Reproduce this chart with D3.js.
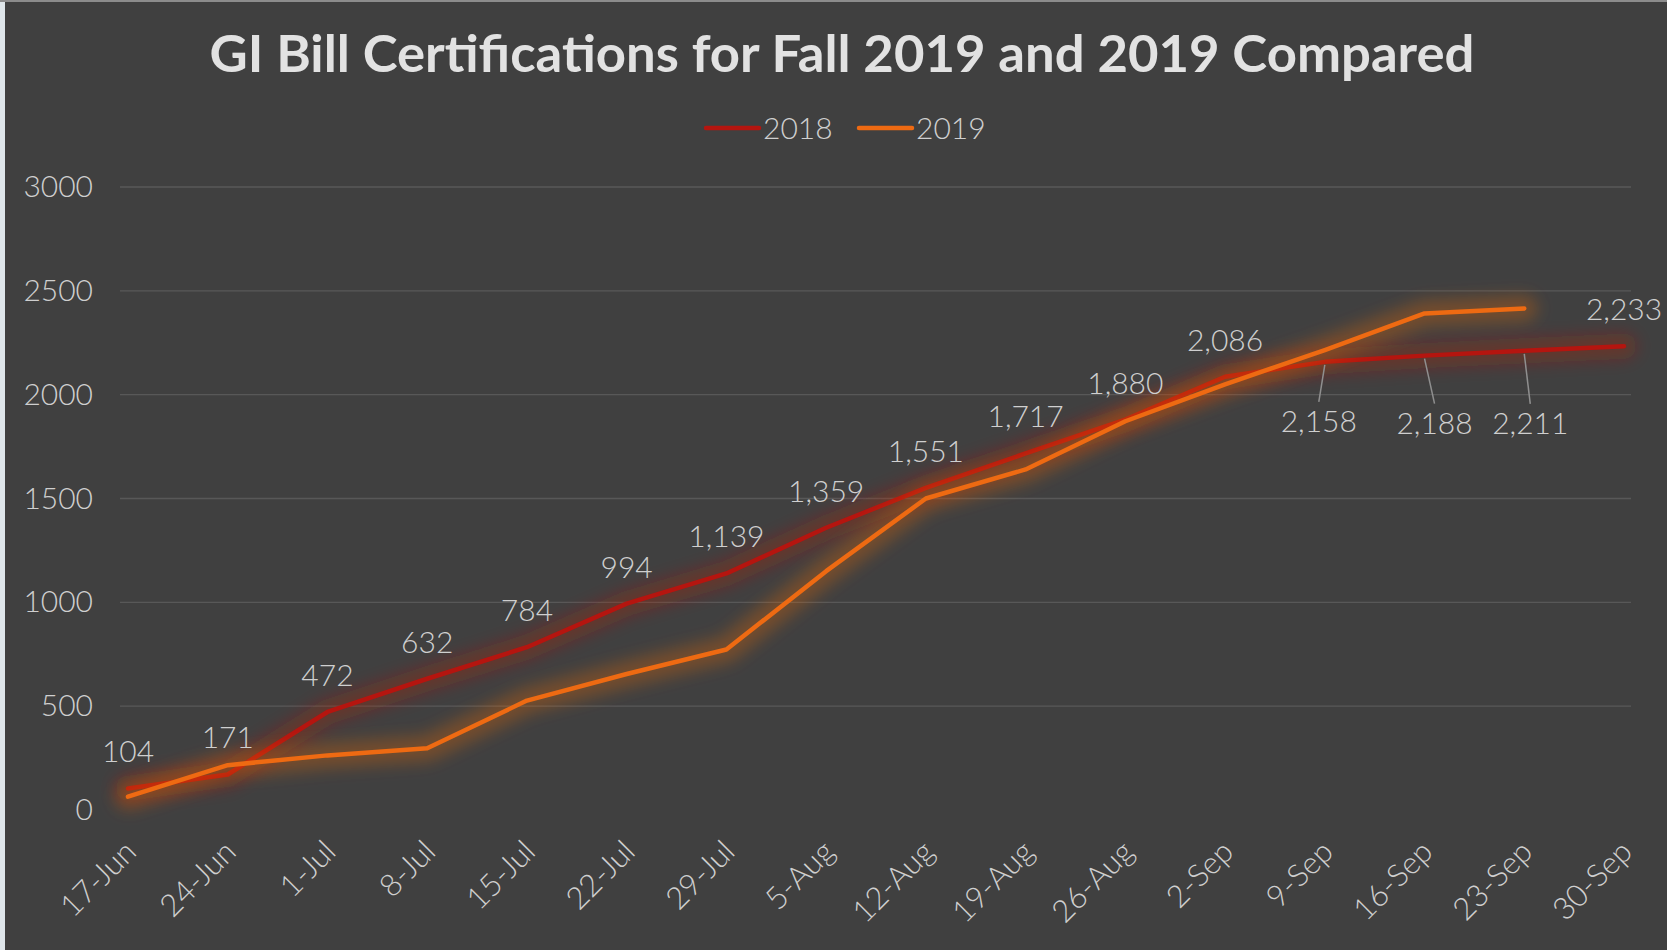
<!DOCTYPE html>
<html>
<head>
<meta charset="utf-8">
<script src="https://cdn.jsdelivr.net/npm/d3@7"></script>
<style>
  html, body { margin: 0; padding: 0; background: #404040; }
  svg { display: block; }
  text { font-family: "Lato", "Noto Sans", sans-serif; }
</style>
</head>
<body>
<svg width="1667" height="950"></svg>
<script>
// chart data
const weeks = ['17-Jun', '24-Jun', '1-Jul', '8-Jul', '15-Jul', '22-Jul', '29-Jul', '5-Aug',
  '12-Aug', '19-Aug', '26-Aug', '2-Sep', '9-Sep', '16-Sep', '23-Sep', '30-Sep'];
const certs2018 = [104, 171, 472, 632, 784, 994, 1139, 1359, 1551, 1717, 1880, 2086, 2158, 2188, 2211, 2233];
const certs2019 = [64, 216, 263, 297, 527, 655, 773, 1150, 1500, 1640, 1872, 2050, 2215, 2391, 2415];
const yTicks = [0, 500, 1000, 1500, 2000, 2500, 3000];
const seriesNames = ['2018', '2019'];

const W = 1667, H = 950;
const svg = d3.select('svg');
const COL_2018 = '#b5150f';
const COL_2019 = '#ee6a12';
const TXT = '#cfcfcf';

// panel edges
svg.append('rect').attr('x', 0).attr('y', 0).attr('width', W).attr('height', H).attr('fill', '#404040');
svg.append('rect').attr('x', 0).attr('y', 0).attr('width', 5).attr('height', H).attr('fill', '#dfe6ea');
svg.append('rect').attr('x', 0).attr('y', 0).attr('width', W).attr('height', 2).attr('fill', '#8c8c8c');

var x = d3.scalePoint().domain(weeks).range([128, 1624]);
var y = d3.scaleLinear().domain([0, 3000]).range([810, 187]);

// gridlines
svg.append('g')
  .selectAll('line')
  .data(yTicks.slice(1))
  .enter()
  .append('line')
  .attr('x1', 120).attr('x2', 1631)
  .attr('y1', d => y(d)).attr('y2', d => y(d))
  .attr('stroke', '#585858')
  .attr('stroke-width', 1.3);

// y axis
var yAxis = svg.append('g')
  .attr('transform', 'translate(93,0)')
  .call(d3.axisLeft(y).tickValues(yTicks).tickSize(0).tickPadding(0).tickFormat(d3.format('d')));
yAxis.select('.domain').remove();
yAxis.selectAll('text')
  .attr('fill', TXT)
  .style('font-size', '30px')
  .style('font-weight', 300)
  .style('font-family', '"Lato", sans-serif');

// x axis
var xAxis = svg.append('g')
  .attr('transform', 'translate(0,846)')
  .call(d3.axisBottom(x).tickSize(0).tickPadding(0));
xAxis.select('.domain').remove();
xAxis.selectAll('text')
  .attr('fill', TXT)
  .attr('text-anchor', 'end')
  .attr('dy', '0.35em')
  .attr('transform', 'translate(2,0) rotate(-45)')
  .style('font-size', '31px')
  .style('font-weight', 300)
  .style('font-family', '"Lato", sans-serif');

// glow filter
var defs = svg.append('defs');
defs.append('filter')
  .attr('id', 'glow')
  .attr('x', '-10%').attr('y', '-40%').attr('width', '120%').attr('height', '180%')
  .append('feGaussianBlur')
  .attr('stdDeviation', 8);

var line = d3.line()
  .x((d, i) => x(weeks[i]))
  .y(d => y(d));

function drawSeries(vals, col) {
  svg.append('path')
    .datum(vals)
    .attr('d', line)
    .attr('fill', 'none')
    .attr('stroke', col)
    .attr('stroke-opacity', 0.3)
    .attr('stroke-width', 26)
    .attr('stroke-linejoin', 'round')
    .attr('stroke-linecap', 'round')
    .attr('filter', 'url(#glow)');
  svg.append('path')
    .datum(vals)
    .attr('d', line)
    .attr('fill', 'none')
    .attr('stroke', col)
    .attr('stroke-width', 4.5)
    .attr('stroke-linejoin', 'round')
    .attr('stroke-linecap', 'round');
}
drawSeries(certs2018, COL_2018);
drawSeries(certs2019, COL_2019);

// data labels for 2018
const fmt = d3.format(',');
// labels that sit below the line with a leader
const below = { '9-Sep': [-6, 70], '16-Sep': [10, 78], '23-Sep': [6, 83] };
var labels = svg.append('g');
certs2018.forEach((v, i) => {
  var px = x(weeks[i]), py = y(v);
  var off = below[weeks[i]];
  if (off) {
    labels.append('line')
      .attr('x1', px).attr('y1', py + 3)
      .attr('x2', px + off[0]).attr('y2', py + off[1] - 30)
      .attr('stroke', '#8f8f8f').attr('stroke-width', 1.5);
    labels.append('text')
      .attr('x', px + off[0]).attr('y', py + off[1])
      .attr('text-anchor', 'middle')
      .attr('fill', TXT)
      .style('font-size', '30px').style('font-weight', 300)
      .text(fmt(v));
  } else {
    labels.append('text')
      .attr('x', px).attr('y', py - 26)
      .attr('text-anchor', 'middle')
      .attr('fill', TXT)
      .style('font-size', '30px').style('font-weight', 300)
      .text(fmt(v));
  }
});

// title
svg.append('text')
  .attr('x', 842).attr('y', 72)
  .attr('text-anchor', 'middle')
  .attr('fill', '#e2e2e2')
  .attr('textLength', 1265)
  .attr('lengthAdjust', 'spacingAndGlyphs')
  .style('font-size', '52px')
  .style('font-weight', 700)
  .text('GI Bill Certifications for Fall 2019 and 2019 Compared');

// legend
var legend = svg.append('g').attr('transform', 'translate(706,128)');
seriesNames.forEach((name, i) => {
  var g = legend.append('g').attr('transform', 'translate(' + (i * 153) + ',0)');
  g.append('line')
    .attr('x1', 0).attr('x2', 53).attr('y1', 0).attr('y2', 0)
    .attr('stroke', i === 0 ? COL_2018 : COL_2019)
    .attr('stroke-width', 4.5)
    .attr('stroke-linecap', 'round');
  g.append('text')
    .attr('x', 57).attr('y', 0).attr('dy', '0.36em')
    .attr('fill', TXT)
    .style('font-size', '30px').style('font-weight', 300)
    .text(name);
});
</script>
</body>
</html>
